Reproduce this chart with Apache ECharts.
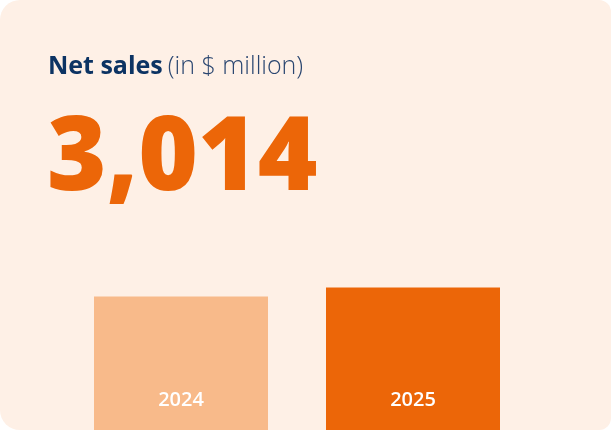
<!DOCTYPE html>
<html>
<head>
<meta charset="utf-8">
<script src="https://cdn.jsdelivr.net/npm/echarts@6/dist/echarts.min.js"></script>
<style>
html,body{margin:0;padding:0;background:#ffffff;}
#c{width:611px;height:430px;}
</style>
</head>
<body>
<div id="c"></div>
<script>
var categories = ['2024', '2025'];
var netSales = [2823, 3014];
var barColors = ['#F8BA8A', '#EC6608'];
var titleBold = 'Net sales';
var titleLight = '(in $ million)';

var chart = echarts.init(document.getElementById('c'));
var latest = netSales[netSales.length - 1];
var bigText = latest.toLocaleString('en-US');

chart.setOption({
  animation: false,
  backgroundColor: 'transparent',
  graphic: [
    {
      type: 'rect', z: -10, silent: true,
      shape: { x: 0, y: 0, width: 611, height: 430, r: [20, 12, 12, 20] },
      style: { fill: '#FEF0E6' }
    }
  ],
  title: [
    {
      left: 43, top: 49,
      text: '{b|' + titleBold + '} {r|' + titleLight + '}',
      textStyle: {
        rich: {
          b: { fontFamily: 'Open Sans', fontWeight: 'bold', fontSize: 25, color: '#0C3363' },
          r: { fontFamily: 'Open Sans', fontWeight: 300, fontSize: 25, color: '#2A4670' }
        }
      }
    },
    {
      left: 42, top: 105,
      text: bigText,
      textStyle: { fontFamily: 'Open Sans', fontWeight: 800, fontSize: 102, color: '#EC6608' }
    }
  ],
  grid: { left: 65, right: 82, top: 0, bottom: 0 },
  xAxis: {
    type: 'category', data: categories,
    axisLine: { show: false }, axisTick: { show: false }, axisLabel: { show: false }
  },
  yAxis: {
    type: 'value', min: 0, max: 9100,
    show: false, splitLine: { show: false }
  },
  series: [{
    type: 'bar',
    barWidth: 174,
    data: netSales.map(function (v, i) { return { value: v, itemStyle: { color: barColors[i] } }; }),
    label: {
      show: true, position: 'insideBottom', distance: 20,
      formatter: function (p) { return p.name; },
      fontFamily: 'Open Sans', fontWeight: 600, fontSize: 20, color: '#ffffff'
    }
  }]
});
</script>
</body>
</html>
